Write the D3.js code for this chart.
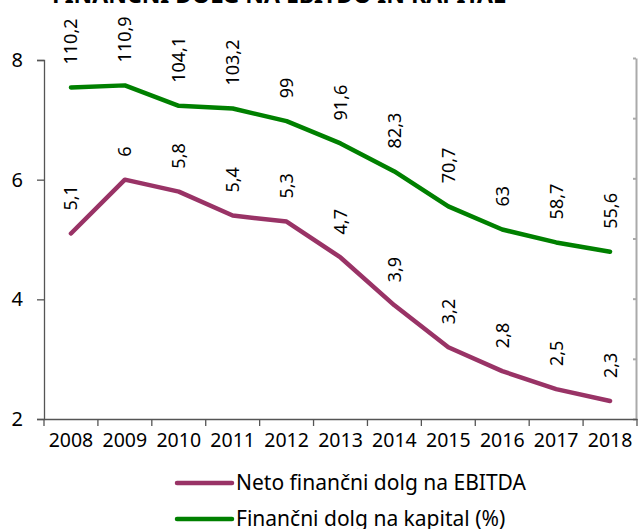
<!DOCTYPE html>
<html>
<head>
<meta charset="utf-8">
<script src="https://cdn.jsdelivr.net/npm/d3@7"></script>
<style>
  body { margin: 0; background: #fff; }
  svg { display: block; font-family: "Noto Sans", sans-serif; }
</style>
</head>
<body>
<div id="chart"></div>
<script>
// data
const years = ["2008", "2009", "2010", "2011", "2012", "2013", "2014", "2015", "2016", "2017", "2018"];
const ebitda = [5.1, 6, 5.8, 5.4, 5.3, 4.7, 3.9, 3.2, 2.8, 2.5, 2.3];
const kapital = [110.2, 110.9, 104.1, 103.2, 99, 91.6, 82.3, 70.7, 63, 58.7, 55.6];
const leftTicks = [2, 4, 6, 8];
const rightTicks = [0, 20, 40, 60, 80, 100, 120];
const seriesNames = ["Neto finančni dolg na EBITDA", "Finančni dolg na kapital (%)"];
const title = "FINANČNI DOLG NA EBITDO IN KAPITAL";

const width = 638, height = 529;
const margin = { top: 60, right: 1, bottom: 110, left: 44 };
const purple = "#993366", green = "#008000";
const fmt = v => String(v).replace(".", ",");

const svg = d3.select("#chart").append("svg")
    .attr("width", width)
    .attr("height", height);

const x = d3.scaleBand()
    .domain(years)
    .range([margin.left, width - margin.right]);

const y = d3.scaleLinear()
    .domain([2, 8])
    .range([height - margin.bottom, margin.top]);

const y2 = d3.scaleLinear()
    .domain([0, 120])
    .range([height - margin.bottom, margin.top - 2]);

// title, mostly cut off at the top like in the original
svg.append("text")
    .attr("x", 52)
    .attr("y", 3)
    .attr("font-size", 23)
    .attr("font-weight", "bold")
    .attr("fill", "#000")
    .text(title);

// left axis
svg.append("g")
    .attr("transform", `translate(${margin.left},0)`)
    .call(d3.axisLeft(y).tickValues(leftTicks).tickFormat(d3.format("d")).tickSize(7).tickPadding(14))
    .call(g => g.selectAll("path, line").attr("stroke", "#555").attr("stroke-width", 1.3))
    .call(g => g.selectAll("text").attr("font-size", 20).attr("fill", "#000").attr("font-family", "Noto Sans"));

// right axis, no labels (off the image)
svg.append("g")
    .attr("transform", `translate(${width - margin.right - 1},0)`)
    .call(d3.axisRight(y2).tickValues(rightTicks).tickSize(-3).tickSizeOuter(0).tickFormat(""))
    .call(g => g.selectAll("path, line").attr("stroke", "#aaa").attr("stroke-width", 2));

// x axis with ticks between categories
const xAxis = svg.append("g")
    .attr("transform", `translate(0,${height - margin.bottom})`)
    .call(d3.axisBottom(x).tickSize(0).tickPadding(14))
    .call(g => g.select(".domain").attr("stroke", "#555").attr("stroke-width", 1.3))
    .call(g => g.selectAll("text").attr("font-size", 19.5).attr("fill", "#000").attr("font-family", "Noto Sans"));

xAxis.selectAll("line.sep")
    .data(years.concat("end"))
    .join("line")
    .attr("class", "sep")
    .attr("x1", (d, i) => i < years.length ? x(d) : x(years[years.length - 1]) + x.bandwidth())
    .attr("x2", (d, i) => i < years.length ? x(d) : x(years[years.length - 1]) + x.bandwidth())
    .attr("y1", 0)
    .attr("y2", 7)
    .attr("stroke", "#555")
    .attr("stroke-width", 1.3);

const cx = d => x(d) + x.bandwidth() / 2;

const line1 = d3.line()
    .x((d, i) => cx(years[i]))
    .y(d => y(d));

const line2 = d3.line()
    .x((d, i) => cx(years[i]))
    .y(d => y2(d));

svg.append("path")
    .datum(kapital)
    .attr("fill", "none")
    .attr("stroke", green)
    .attr("stroke-width", 4.5)
    .attr("stroke-linejoin", "round")
    .attr("stroke-linecap", "round")
    .attr("d", line2);

svg.append("path")
    .datum(ebitda)
    .attr("fill", "none")
    .attr("stroke", purple)
    .attr("stroke-width", 4.5)
    .attr("stroke-linejoin", "round")
    .attr("stroke-linecap", "round")
    .attr("d", line1);

// data labels, rotated
function labels(data, scale) {
    svg.append("g")
        .selectAll("text")
        .data(data)
        .join("text")
        .attr("transform", (d, i) => `translate(${cx(years[i])},${scale(d) - 23}) rotate(-90)`)
        .attr("dy", "0.36em")
        .attr("text-anchor", "start")
        .attr("font-size", 18)
        .attr("fill", "#000")
        .text(d => fmt(d));
}
labels(kapital, y2);
labels(ebitda, y);

// legend
const legend = svg.append("g")
    .selectAll("g")
    .data(seriesNames)
    .join("g")
    .attr("transform", (d, i) => `translate(177,${483 + i * 36})`);

legend.append("line")
    .attr("x1", 0)
    .attr("x2", 55)
    .attr("stroke", (d, i) => i === 0 ? purple : green)
    .attr("stroke-width", 4.5)
    .attr("stroke-linecap", "round");

legend.append("text")
    .attr("x", 59)
    .attr("dy", "0.35em")
    .attr("font-size", 21)
    .attr("fill", "#000")
    .text(d => d);
</script>
</body>
</html>
